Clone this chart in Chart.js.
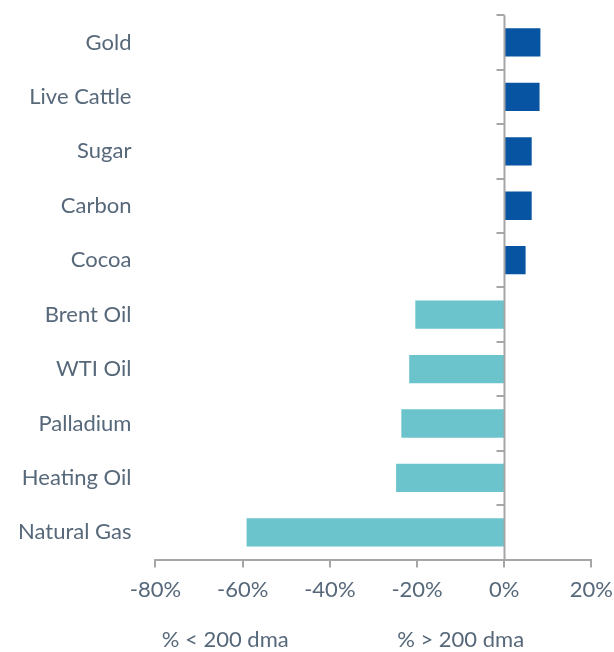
<!DOCTYPE html>
<html>
<head>
<meta charset="utf-8">
<script src="https://cdn.jsdelivr.net/npm/chart.js@4/dist/chart.umd.min.js"></script>
<style>
  html, body { margin: 0; padding: 0; background: #fff; }
  #wrap { width: 614px; height: 652px; position: relative; }
</style>
</head>
<body>
<div id="wrap"><canvas id="c"></canvas></div>
<script>
const categories = ["Gold", "Live Cattle", "Sugar", "Carbon", "Cocoa", "Brent Oil", "WTI Oil", "Palladium", "Heating Oil", "Natural Gas"]
const values = [8.3, 8.1, 6.3, 6.3, 4.9, -20.4, -21.8, -23.6, -24.8, -59.1]
const xTicks = [-80, -60, -40, -20, 0, 20]
const bottomTitles = ["% < 200 dma", "% > 200 dma"]

const BLUE = "#0754a3"
const TEAL = "#6bc4cb"
const AXIS = "#a6a6a6"
const TEXT = "#56687a"
const FONT = "'Source Sans Pro', Lato, 'Open Sans', sans-serif"

// zero line with small tick marks between categories, short x tick marks,
// plus the two captions under the axis
const zeroAxis = {
  id: "zeroAxis",
  afterDatasetsDraw(chart) {
    const { ctx, scales: { x, y } } = chart
    const x0 = Math.round(x.getPixelForValue(0)) + 0.5
    const n = categories.length
    const step = (y.bottom - y.top) / n
    ctx.save()
    ctx.strokeStyle = AXIS
    ctx.lineWidth = 2
    ctx.beginPath()
    ctx.moveTo(x0, y.top)
    ctx.lineTo(x0, y.bottom)
    for (let i = 0; i < n; i++) {
      const yy = Math.round(y.top + i * step)
      ctx.moveTo(x0 - 8, yy)
      ctx.lineTo(x0, yy)
    }
    xTicks.forEach(v => {
      const xx = Math.round(x.getPixelForValue(v))
      ctx.moveTo(xx, y.bottom)
      ctx.lineTo(xx, y.bottom + 8)
    })
    ctx.stroke()

    ctx.fillStyle = TEXT
    ctx.font = "22px " + FONT
    ctx.textAlign = "center"
    ctx.textBaseline = "middle"
    ctx.fillText(bottomTitles[0], x.getPixelForValue(-64), 640)
    ctx.fillText(bottomTitles[1], x.getPixelForValue(-10), 640)
    ctx.restore()
  }
}

new Chart(document.getElementById("c"), {
  type: "bar",
  data: {
    labels: categories,
    datasets: [{
      data: values,
      backgroundColor: values.map(v => v >= 0 ? BLUE : TEAL),
      borderWidth: 0,
      categoryPercentage: 1,
      barPercentage: 0.52
    }]
  },
  options: {
    indexAxis: "y",
    responsive: true, maintainAspectRatio: false, animation: false,
    layout: { padding: { top: 0, right: 0, bottom: 48, left: 16 } },
    plugins: { legend: { display: false }, tooltip: { enabled: false } },
    scales: {
      x: {
        min: -80, max: 20,
        afterBuildTicks: s => { s.ticks = xTicks.map(v => ({ value: v })) },
        grid: { display: false, drawTicks: true, tickLength: 16 },
        border: { display: true, color: AXIS, width: 2 },
        ticks: { color: TEXT, font: { size: 22, family: FONT }, padding: 1, callback: v => v + "%" }
      },
      y: {
        // hidden tick marks only reserve the gap between labels and plot
        grid: { display: false, drawTicks: true, tickLength: 22 },
        border: { display: false },
        ticks: { color: TEXT, font: { size: 22, family: FONT }, padding: 2 }
      }
    }
  },
  plugins: [zeroAxis]
})
</script>
</body>
</html>
